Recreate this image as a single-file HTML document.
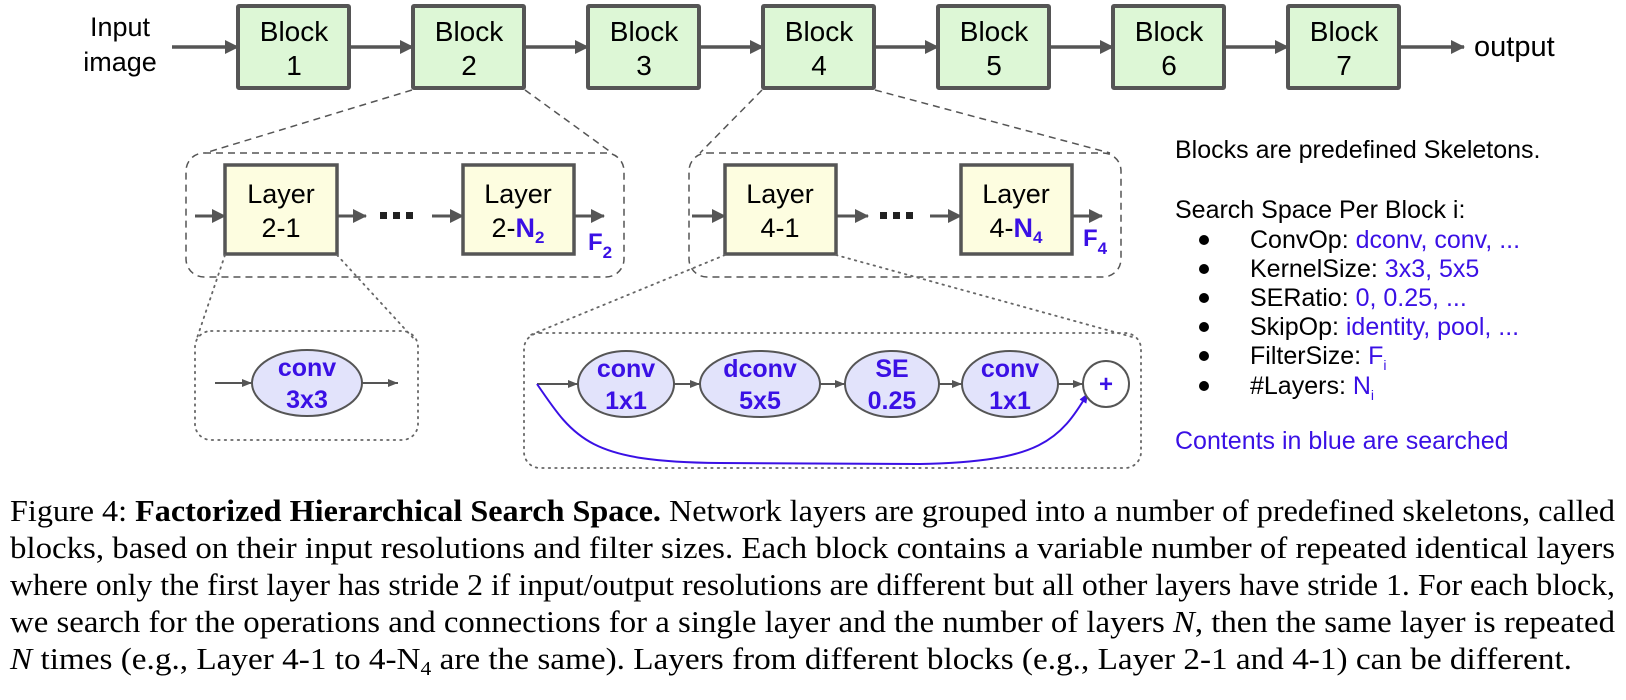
<!DOCTYPE html>
<html><head><meta charset="utf-8"><style>
html,body{margin:0;padding:0;background:#fff;}
svg{display:block;}
</style></head><body>
<svg width="1626" height="700" viewBox="0 0 1626 700" xmlns="http://www.w3.org/2000/svg" font-family="Liberation Sans, sans-serif">
<defs>
<marker id="ahb" markerWidth="14" markerHeight="14" refX="13" refY="7" orient="auto" markerUnits="userSpaceOnUse"><path d="M0,0 L14,7 L0,14 z" fill="#555"/></marker>
<marker id="ahs" markerWidth="10" markerHeight="8" refX="10" refY="4" orient="auto" markerUnits="userSpaceOnUse"><path d="M0,0 L10,4 L0,8 z" fill="#555"/></marker>
<marker id="ahblue" markerWidth="10" markerHeight="8" refX="10" refY="4" orient="auto" markerUnits="userSpaceOnUse"><path d="M0,0 L10,4 L0,8 z" fill="#3a10e5"/></marker>
</defs>

<text x="120" y="36" font-size="27" text-anchor="middle">Input</text>
<text x="120" y="71" font-size="27" text-anchor="middle">image</text>

<g stroke="#555" stroke-width="3.5" marker-end="url(#ahb)">
<line x1="172" y1="47" x2="238" y2="47"/>
<line x1="350" y1="47" x2="413" y2="47"/>
<line x1="524" y1="47" x2="588" y2="47"/>
<line x1="699" y1="47" x2="763" y2="47"/>
<line x1="874" y1="47" x2="938" y2="47"/>
<line x1="1049" y1="47" x2="1113" y2="47"/>
<line x1="1224" y1="47" x2="1288" y2="47"/>
<line x1="1399" y1="47" x2="1464" y2="47"/>
</g>
<text x="1474" y="56" font-size="29">output</text>

<g fill="#ddf7d6" stroke="#555" stroke-width="4">
<rect x="238" y="6" width="111" height="82" rx="1"/>
<rect x="413" y="6" width="111" height="82" rx="1"/>
<rect x="588" y="6" width="111" height="82" rx="1"/>
<rect x="763" y="6" width="111" height="82" rx="1"/>
<rect x="938" y="6" width="111" height="82" rx="1"/>
<rect x="1113" y="6" width="111" height="82" rx="1"/>
<rect x="1288" y="6" width="111" height="82" rx="1"/>
</g>
<g font-size="28" text-anchor="middle">
<text x="294" y="41">Block</text><text x="294" y="75">1</text>
<text x="469" y="41">Block</text><text x="469" y="75">2</text>
<text x="644" y="41">Block</text><text x="644" y="75">3</text>
<text x="819" y="41">Block</text><text x="819" y="75">4</text>
<text x="994" y="41">Block</text><text x="994" y="75">5</text>
<text x="1169" y="41">Block</text><text x="1169" y="75">6</text>
<text x="1344" y="41">Block</text><text x="1344" y="75">7</text>
</g>

<g stroke="#555" stroke-width="1.5" stroke-dasharray="7,5" fill="none">
<line x1="412" y1="90" x2="205" y2="153"/>
<line x1="525" y1="90" x2="612" y2="153"/>
<line x1="762" y1="90" x2="700" y2="153"/>
<line x1="875" y1="90" x2="1110" y2="153"/>
<rect x="186" y="153" width="438" height="124" rx="18"/>
<rect x="689" y="153" width="432" height="124" rx="18"/>
</g>

<g stroke="#555" stroke-width="3" marker-end="url(#ahb)">
<line x1="195" y1="216" x2="225" y2="216"/>
<line x1="337" y1="216" x2="366" y2="216"/>
<line x1="432" y1="216" x2="463" y2="216"/>
<line x1="574" y1="216" x2="604" y2="216"/>
<line x1="692" y1="216" x2="725" y2="216"/>
<line x1="836" y1="216" x2="868" y2="216"/>
<line x1="930" y1="216" x2="961" y2="216"/>
<line x1="1072" y1="216" x2="1102" y2="216"/>
</g>
<g fill="#222"><rect x="380" y="212" width="7" height="7"/><rect x="393" y="212" width="7" height="7"/><rect x="406" y="212" width="7" height="7"/>
<rect x="880" y="212" width="7" height="7"/><rect x="893" y="212" width="7" height="7"/><rect x="906" y="212" width="7" height="7"/></g>

<g fill="#fdfde0" stroke="#555" stroke-width="3.5">
<rect x="225" y="165" width="112" height="89"/>
<rect x="463" y="165" width="111" height="89"/>
<rect x="725" y="165" width="111" height="89"/>
<rect x="961" y="165" width="111" height="89"/>
</g>
<g font-size="27" text-anchor="middle">
<text x="281" y="203">Layer</text><text x="281" y="237">2-1</text>
<text x="518" y="203">Layer</text><text x="518" y="237">2-<tspan fill="#3a10e5" font-weight="bold">N</tspan><tspan fill="#3a10e5" font-weight="bold" font-size="17" dy="6">2</tspan></text>
<text x="780" y="203">Layer</text><text x="780" y="237">4-1</text>
<text x="1016" y="203">Layer</text><text x="1016" y="237">4-<tspan fill="#3a10e5" font-weight="bold">N</tspan><tspan fill="#3a10e5" font-weight="bold" font-size="17" dy="6">4</tspan></text>
</g>
<text x="588" y="250" font-size="24" font-weight="bold" fill="#3a10e5">F<tspan font-size="17" dy="8">2</tspan></text>
<text x="1083" y="246" font-size="24" font-weight="bold" fill="#3a10e5">F<tspan font-size="17" dy="8">4</tspan></text>

<g stroke="#666" stroke-width="1.8" stroke-dasharray="1.5,5" stroke-linecap="round" fill="none">
<line x1="225" y1="255" x2="197" y2="338"/>
<line x1="337" y1="255" x2="415" y2="340"/>
<line x1="725" y1="255" x2="528" y2="336"/>
<line x1="836" y1="255" x2="1136" y2="338"/>
<rect x="195" y="331" width="223" height="109" rx="16"/>
<rect x="524" y="333" width="617" height="135" rx="16"/>
</g>

<g stroke="#555" stroke-width="2" marker-end="url(#ahs)">
<line x1="215" y1="383" x2="252" y2="383"/>
<line x1="362" y1="383" x2="398" y2="383"/>
</g>
<ellipse cx="307" cy="383" rx="55" ry="33" fill="#e2e3fb" stroke="#555" stroke-width="2"/>
<g font-size="25" font-weight="bold" fill="#3a10e5" text-anchor="middle">
<text x="307" y="376">conv</text><text x="307" y="408">3x3</text>
</g>

<g stroke="#555" stroke-width="2" marker-end="url(#ahs)">
<line x1="537" y1="384" x2="578" y2="384"/>
<line x1="674" y1="384" x2="700" y2="384"/>
<line x1="820" y1="384" x2="845" y2="384"/>
<line x1="939" y1="384" x2="962" y2="384"/>
<line x1="1058" y1="384" x2="1083" y2="384"/>
</g>
<path d="M537,384 C575,440 590,462 720,463 L920,464 C1040,462 1060,440 1088,393" fill="none" stroke="#3a10e5" stroke-width="2" marker-end="url(#ahblue)"/>
<g fill="#e2e3fb" stroke="#555" stroke-width="2">
<ellipse cx="626" cy="384" rx="48" ry="33"/>
<ellipse cx="760" cy="384" rx="60" ry="33"/>
<ellipse cx="892" cy="384" rx="47" ry="33"/>
<ellipse cx="1010" cy="384" rx="48" ry="33"/>
</g>
<circle cx="1106" cy="384" r="23" fill="#fff" stroke="#555" stroke-width="2"/>
<text x="1106" y="392" font-size="24" font-weight="bold" fill="#3a10e5" text-anchor="middle">+</text>
<g font-size="25" font-weight="bold" fill="#3a10e5" text-anchor="middle">
<text x="626" y="377">conv</text><text x="626" y="409">1x1</text>
<text x="760" y="377">dconv</text><text x="760" y="409">5x5</text>
<text x="892" y="377">SE</text><text x="892" y="409">0.25</text>
<text x="1010" y="377">conv</text><text x="1010" y="409">1x1</text>
</g>

<g font-size="25">
<text x="1175" y="158">Blocks are predefined Skeletons.</text>
<text x="1175" y="218">Search Space Per Block i:</text>
<g>
<circle cx="1204" cy="240" r="5"/><circle cx="1204" cy="269" r="5"/><circle cx="1204" cy="298" r="5"/>
<circle cx="1204" cy="327" r="5"/><circle cx="1204" cy="356" r="5"/><circle cx="1204" cy="386" r="5"/>
</g>
<text x="1250" y="248">ConvOp: <tspan fill="#3a10e5">dconv, conv, ...</tspan></text>
<text x="1250" y="277">KernelSize: <tspan fill="#3a10e5">3x3, 5x5</tspan></text>
<text x="1250" y="306">SERatio: <tspan fill="#3a10e5">0, 0.25, ...</tspan></text>
<text x="1250" y="335">SkipOp: <tspan fill="#3a10e5">identity, pool, ...</tspan></text>
<text x="1250" y="364">FilterSize: <tspan fill="#3a10e5">F<tspan font-size="14" dy="6">i</tspan></tspan></text>
<text x="1250" y="394">#Layers: <tspan fill="#3a10e5">N<tspan font-size="14" dy="6">i</tspan></tspan></text>
<text x="1175" y="449" fill="#3a10e5">Contents in blue are searched</text>
</g>

<g font-family="Liberation Serif, serif" font-size="31" fill="#000">
<text x="10" y="521" textLength="1605" lengthAdjust="spacingAndGlyphs">Figure 4: <tspan font-weight="bold">Factorized Hierarchical Search Space.</tspan> Network layers are grouped into a number of predefined skeletons, called</text>
<text x="10" y="558" textLength="1605" lengthAdjust="spacingAndGlyphs">blocks, based on their input resolutions and filter sizes.  Each block contains a variable number of repeated identical layers</text>
<text x="10" y="595" textLength="1605" lengthAdjust="spacingAndGlyphs">where only the first layer has stride 2 if input/output resolutions are different but all other layers have stride 1. For each block,</text>
<text x="10" y="632" textLength="1605" lengthAdjust="spacingAndGlyphs">we search for the operations and connections for a single layer and the number of layers <tspan font-style="italic">N</tspan>, then the same layer is repeated</text>
<text x="10" y="669" textLength="1562" lengthAdjust="spacingAndGlyphs"><tspan font-style="italic">N</tspan> times (e.g., Layer 4-1 to 4-N<tspan font-size="20" dy="6">4</tspan><tspan dy="-6"> are the same). Layers from different blocks (e.g., Layer 2-1 and 4-1) can be different.</tspan></text>
</g>
</svg>
</body></html>
